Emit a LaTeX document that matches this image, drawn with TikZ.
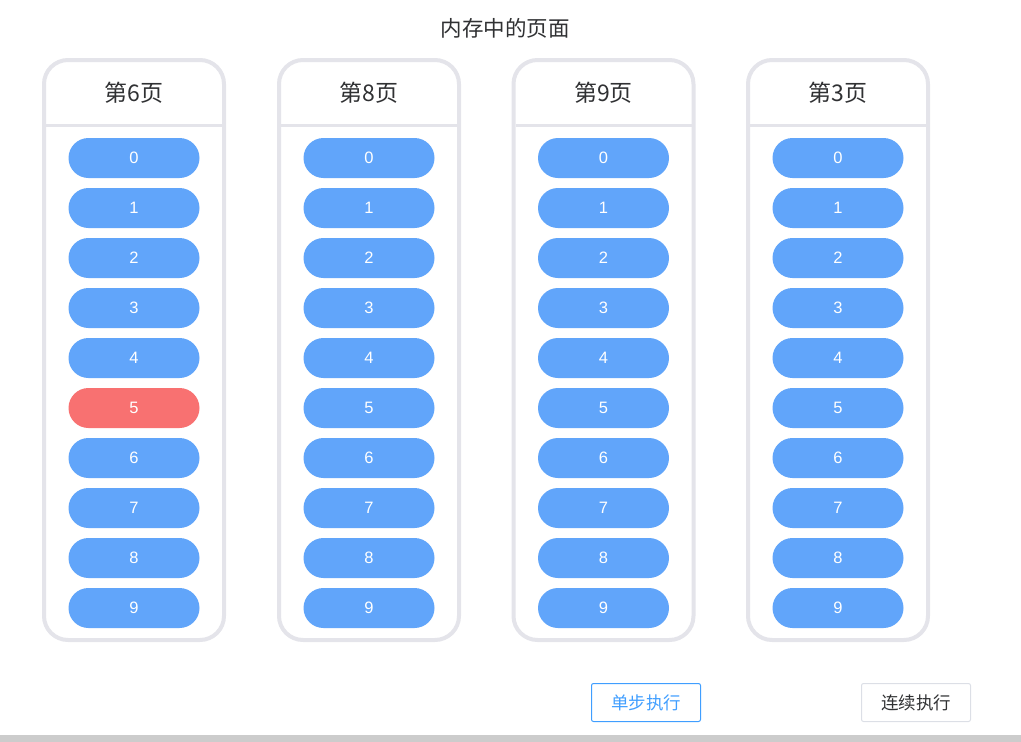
\documentclass[tikz,border=0pt]{standalone}
\usepackage{fontspec}
\setmainfont{Liberation Sans}
\newfontfamily\cjk{Noto Sans CJK SC}
\definecolor{pillblue}{HTML}{61A5FA}
\definecolor{pillred}{HTML}{F87171}
\definecolor{frame}{HTML}{E4E4EA}
\definecolor{txt}{HTML}{303133}
\definecolor{btnblue}{HTML}{409EFF}
\definecolor{btngray}{HTML}{DCDFE6}
\definecolor{barg}{HTML}{CCCCCC}
\tikzset{
  pagebox/.style={draw=frame, line width=4pt, rounded corners=24pt, minimum width=180pt, minimum height=580pt, fill=white},
  pill/.style={fill=pillblue, rounded corners=20pt, minimum width=131pt, minimum height=40pt, text=white, font=\fontsize{16.5}{16.5}\selectfont, inner sep=0pt},
  hot/.style={fill=pillred},
  head/.style={text=txt, font=\cjk\fontsize{23}{23}\selectfont},
  btn/.style={rounded corners=2pt, line width=1pt, minimum width=109pt, minimum height=38pt, font=\cjk\fontsize{17.5}{17.5}\selectfont, inner sep=0pt},
}
\begin{document}
\begin{tikzpicture}[x=1pt,y=-1pt]
\useasboundingbox (0,0) rectangle (1021,742);
\node[text=txt, font=\cjk\fontsize{21.5}{21.5}\selectfont] (title) at (505,28) {内存中的页面};
\foreach \i/\x/\pg in {1/134/6, 2/369/8, 3/603.5/9, 4/838/3} {
  \node[pagebox] (box\i) at (\x,350) {};
  \node[head] (head\i) at (\x,93) {第\pg 页};
  \draw[frame, line width=3pt] (\x-88,125) coordinate (sl\i) -- (\x+88,125) coordinate (sr\i);
  \foreach \k in {0,...,9} {
    \pgfmathsetmacro\yy{158+50*\k}
    \ifnum\i=1 \ifnum\k=5
      \node[pill, hot] (c\i p\k) at (\x,\yy) {\k};
    \else
      \node[pill] (c\i p\k) at (\x,\yy) {\k};
    \fi\else
      \node[pill] (c\i p\k) at (\x,\yy) {\k};
    \fi
  }
}
\node[btn, draw=btnblue, text=btnblue] (step1) at (646,702.5) {单步执行};
\node[btn, draw=btngray, text=txt] (run) at (916,702.5) {连续执行};
\fill[barg] (0,735) rectangle (1021,742);
\end{tikzpicture}
\end{document}
